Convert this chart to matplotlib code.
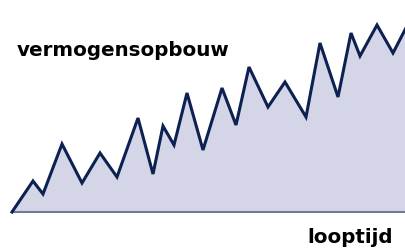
import matplotlib.pyplot as plt
import numpy as np

# looptijd (x) en vermogen (y)
looptijd = [0, 21, 31, 50, 70, 88, 105, 126, 141, 151, 162, 175, 191,
            210, 224, 237, 256, 273, 294, 308, 326, 339, 348, 365, 381, 396]
vermogen = [0, 31, 18, 68, 29, 59, 35, 94, 38, 86, 67, 119, 62,
            124, 87, 145, 105, 130, 95, 169, 115, 179, 156, 187, 159, 188]

titel = "vermogensopbouw"
as_label = "looptijd"

fill_kleur = "#d4d6e7"
lijn_kleur = "#0c2152"
basis_kleur = "#6d7a9c"

fig = plt.figure(figsize=(4.06, 2.48), dpi=100)
ax = fig.add_axes([0, 0, 1, 1])

x = np.array(looptijd)
y = np.array(vermogen)

ax.fill_between(x, 0, y, color=fill_kleur, lw=0)
ax.plot([x[0], x[-1]], [0, 0], color=basis_kleur, lw=1.5)
ax.plot(x, y, color=lijn_kleur, lw=2.2, solid_joinstyle='miter')

ax.set_xlim(-12, 394)
ax.set_ylim(-36, 212)
ax.axis('off')

ax.text(5, 156, titel, fontsize=14.3, fontweight='bold', va='baseline', ha='left')
ax.text(381, -31, as_label, fontsize=14.3, fontweight='bold', va='baseline', ha='right')

fig.savefig("out.png", dpi=100)
